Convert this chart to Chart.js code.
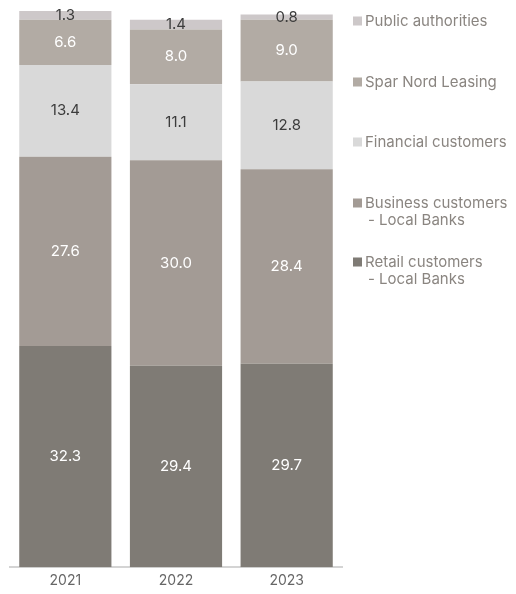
<!DOCTYPE html>
<html>
<head>
<meta charset="utf-8">
<script src="https://cdn.jsdelivr.net/npm/chart.js@4/dist/chart.umd.min.js"></script>
<style>
  html, body { margin: 0; padding: 0; background: #fff; }
  #wrap { width: 516px; height: 594px; }
</style>
</head>
<body>
<div id="wrap"><canvas id="myChart" width="516" height="594"></canvas></div>
<script>
const years = ['2021', '2022', '2023'];

// bottom to top
const retail = [32.3, 29.4, 29.7];
const business = [27.6, 30.0, 28.4];
const financial = [13.4, 11.1, 12.8];
const leasing = [6.6, 8.0, 9.0];
const publicAuth = [1.3, 1.4, 0.8];

const seriesNames = [
  ['Retail customers', '- Local Banks'],
  ['Business customers', '- Local Banks'],
  ['Financial customers'],
  ['Spar Nord Leasing'],
  ['Public authorities']
];
const seriesColors = ['#7f7b75', '#a39b95', '#d9d9d9', '#b2aba4', '#cdc8c9'];
const labelColors = ['#ffffff', '#ffffff', '#3c3c3c', '#ffffff', '#3c3c3c'];

const FONT = 'Inter, "Open Sans", sans-serif';

// value labels in the middle of each segment
const segmentLabels = {
  id: 'segmentLabels',
  afterDatasetsDraw(chart) {
    const ctx = chart.ctx;
    ctx.save();
    ctx.font = '15px ' + FONT;
    ctx.textAlign = 'center';
    ctx.textBaseline = 'middle';
    chart.data.datasets.forEach((ds, i) => {
      const meta = chart.getDatasetMeta(i);
      meta.data.forEach((bar, j) => {
        const y = (bar.y + bar.base) / 2;
        ctx.fillStyle = labelColors[i];
        ctx.fillText(ds.data[j].toFixed(1), bar.x, y);
      });
    });
    ctx.restore();
  }
};

// legend on the right, top item = top segment
const sideLegend = {
  id: 'sideLegend',
  afterDraw(chart) {
    const ctx = chart.ctx;
    const x = chart.chartArea.right + 11;
    const rows = [21, 82, 142, 203, 262];
    ctx.save();
    ctx.font = '15px ' + FONT;
    ctx.textBaseline = 'middle';
    ctx.textAlign = 'left';
    const n = chart.data.datasets.length;
    for (let k = 0; k < n; k++) {
      const ds = chart.data.datasets[n - 1 - k];
      const y = rows[k];
      ctx.fillStyle = ds.backgroundColor;
      ctx.fillRect(x, y - 4.5, 9, 9);
      ctx.fillStyle = '#8a8580';
      ds.lines.forEach((line, l) => {
        ctx.fillText(line, x + (l === 0 ? 12 : 15), y + l * 17);
      });
    }
    ctx.restore();
  }
};

const datasets = [retail, business, financial, leasing, publicAuth].map((d, i) => ({
  label: seriesNames[i].join(' '),
  lines: seriesNames[i],
  data: d,
  backgroundColor: seriesColors[i],
  borderWidth: 0,
  categoryPercentage: 1,
  barPercentage: 0.833
}));

new Chart(document.getElementById('myChart'), {
  type: 'bar',
  data: { labels: years, datasets: datasets },
  options: {
    responsive: false,
    animation: false,
    layout: { padding: { left: 10, right: 174, top: 0, bottom: 0 } },
    plugins: { legend: { display: false }, tooltip: { enabled: false } },
    scales: {
      x: {
        stacked: true,
        grid: { display: false, drawTicks: false },
        border: { display: true, color: '#d4d4d4', width: 2 },
        ticks: { color: '#666', font: { family: FONT, size: 14 }, padding: 5 }
      },
      y: {
        stacked: true,
        display: false,
        min: 0,
        max: 82.8
      }
    }
  },
  plugins: [segmentLabels, sideLegend]
});
</script>
</body>
</html>
